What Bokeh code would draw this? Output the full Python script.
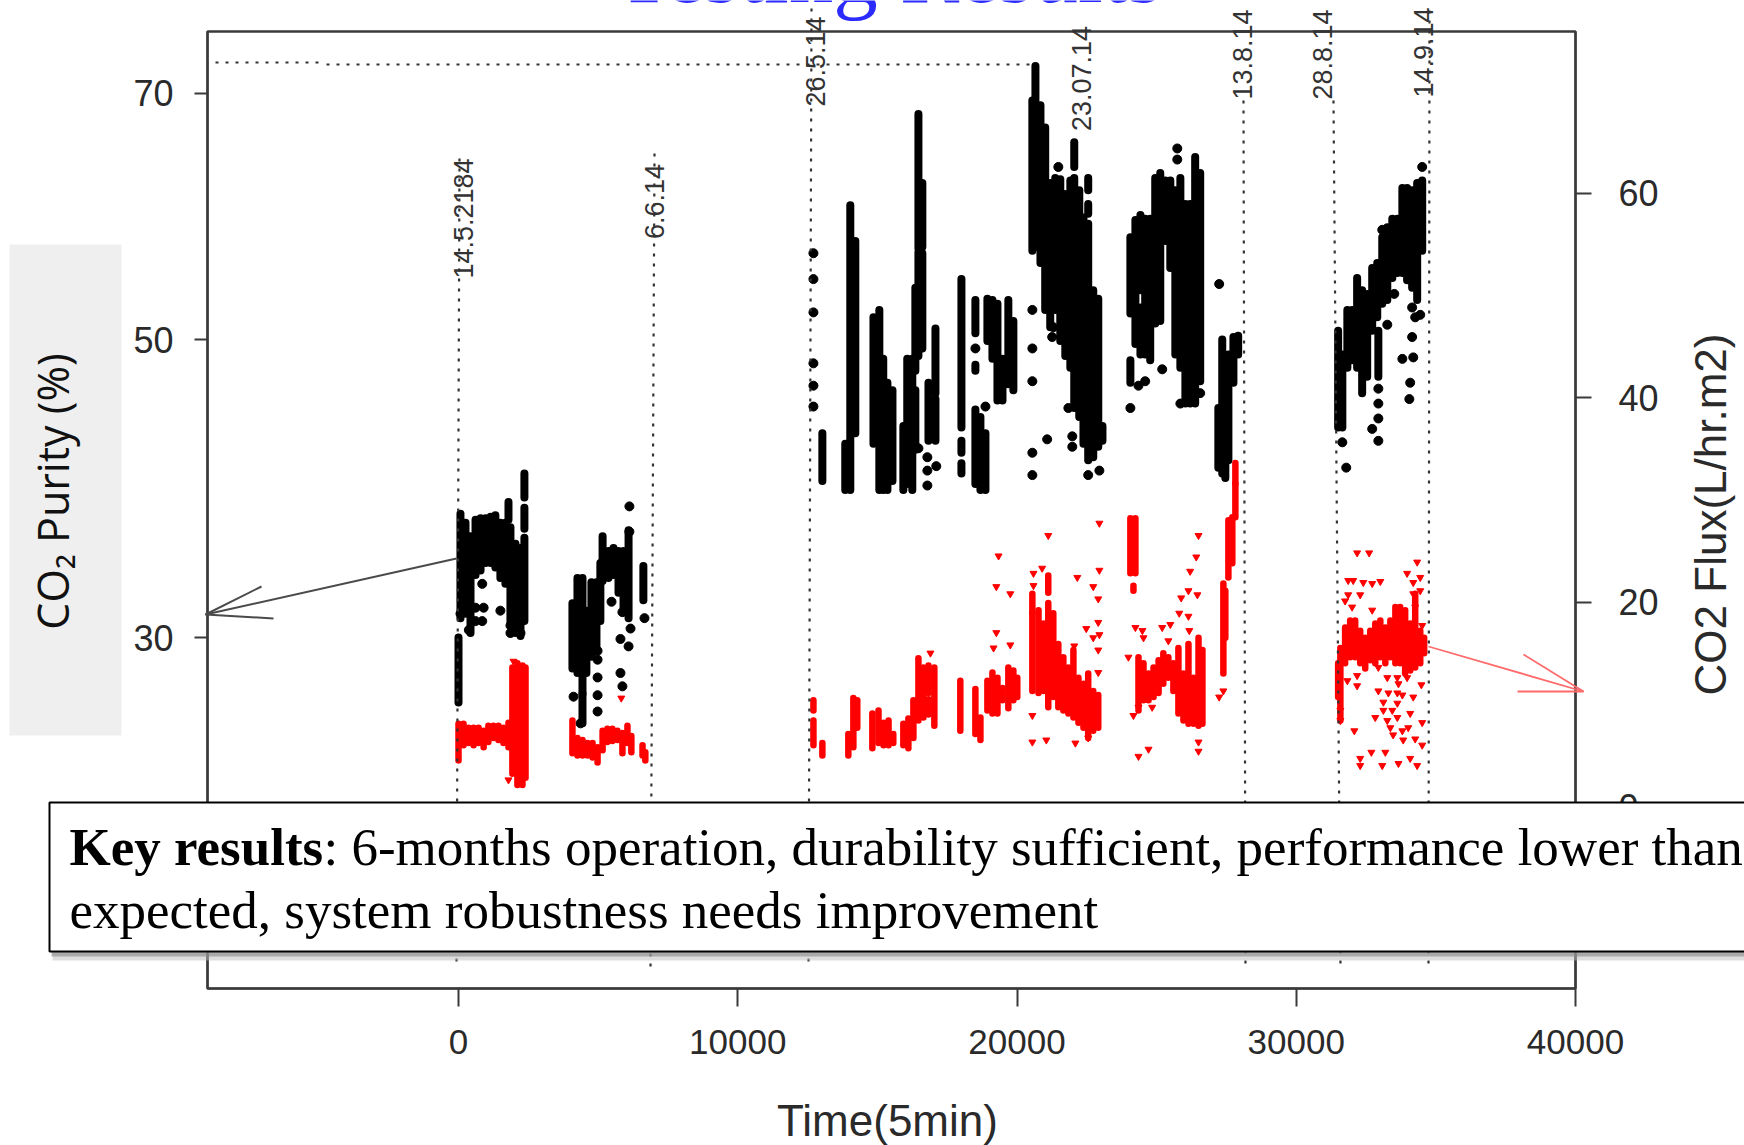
from math import pi
import numpy as np
from bokeh.embed import file_html
from bokeh.resources import INLINE
from bokeh.plotting import figure
from bokeh.models import LinearAxis, FixedTicker, Label, BoxAnnotation, Arrow, Range1d

# ---------------- data ---------------------------------------
x_ticks = [0, 10000, 20000, 30000, 40000]
flux_ticks = [0, 20, 40, 60]
purity_ticks = [30, 50, 70]

# dense CO2 purity clusters: time, low, high of each vertical band
purity_band_t = [0,70,250,430,610,790,970,1150,1320,1500,1680,1790,1860,2040,2220,2360,2360,2360,
 4080,4260,4440,4440,4580,4760,4940,5080,5160,5370,5550,5730,5910,6090,6620,
 13030,13850,14030,14210,14860,15070,15210,15360,15540,15930,16070,16250,16360,16360,16470,16470,16610,16610,16830,17080,17080,
 18010,18010,18010,18510,18510,18510,18690,18870,18940,19120,19300,19480,19690,19870,
 20550,20660,20660,20840,21010,21190,21370,21550,21730,21910,22050,22050,22230,22380,22550,22550,22550,22730,22910,23060,
 24060,24060,24240,24420,24420,24590,24770,24950,25130,25310,25490,25670,25850,26030,26200,26380,26560,
 27210,27350,27460,27570,27750,27920,
 31500,31650,31830,32000,32180,32360,32540,32720,32900,32940,33080,33260,33440,33620,33800,33970,34150,34330,34510]
purity_band_lo = [25.6,31.3,31.6,30.3,34.2,34.5,35.0,35.0,34.7,34.0,33.6,37.9,31.0,30.3,30.1,39.4,37.3,31.1,
 27.9,27.6,26.2,24.2,27.6,28.7,29.1,31.1,33.8,34.0,34.2,33.0,32.0,31.3,32.5,
 40.5,39.9,39.9,43.7,43.0,39.9,39.9,39.9,40.5,39.9,40.3,39.9,47.9,42.6,57.4,48.9,57.5,49.4,43.2,46.4,43.2,
 44.1,42.4,41.0,50.5,47.9,40.3,39.9,39.9,49.9,48.7,45.9,45.9,47.0,46.6,
 57.2,68.8,57.5,56.2,52.4,51.0,52.4,49.9,48.9,48.1,64.0,45.4,44.8,43.0,62.1,60.2,41.9,42.1,42.8,43.2,
 52.1,47.1,49.7,54.0,49.0,49.0,48.6,51.3,51.5,58.0,55.8,49.0,48.1,45.7,45.7,45.7,47.2,
 41.4,41.0,40.7,41.9,47.1,49.0,
 44.1,44.1,48.1,48.6,48.1,46.4,47.5,50.7,51.8,47.5,52.9,53.2,55.0,55.4,55.4,54.8,54.2,53.2,57.2]
purity_band_hi = [30.0,38.3,37.7,36.8,37.9,38.0,38.0,38.1,38.2,37.7,37.7,39.1,37.4,36.3,36.0,41.0,38.7,36.7,
 32.3,34.0,34.0,26.2,31.8,33.7,33.7,35.0,36.8,35.8,36.0,35.8,35.8,37.2,34.8,
 43.7,43.0,60.9,58.0,51.8,52.4,48.7,47.1,46.6,44.2,48.7,48.7,54.2,46.6,68.3,57.1,62.7,57.0,47.1,50.9,46.0,
 54.9,43.2,41.7,53.2,48.3,45.3,44.8,43.7,53.3,53.2,52.9,48.7,53.2,51.5,
 69.4,72.2,68.8,69.0,67.2,62.7,63.1,63.0,61.8,62.9,66.0,63.1,62.1,59.9,63.1,61.0,59.4,54.0,53.3,44.2,
 58.3,48.6,59.7,60.1,52.6,59.8,59.8,63.1,63.5,62.9,62.9,62.1,63.1,61.0,61.0,64.8,63.5,
 45.4,50.0,48.7,49.0,50.2,50.3,
 50.7,49.0,52.4,52.4,55.0,54.0,53.7,55.8,56.2,50.7,58.3,59.1,59.8,59.8,62.3,62.3,62.1,62.7,62.9]
# isolated CO2 purity readings
purity_pt_t = [850,610,900,610,850,370,70,1500,1860,2220,1860,
 6120,6120,5480,5870,6160,6660,5800,6090,5800,5870,4980,4980,4980,4980,4980,4120,4370,
 12710,12710,12710,12710,12710,12710,16790,16790,17110,16790,16470,18510,18870,
 20550,20550,20550,20550,20550,21080,21980,21980,22550,22950,21840,21300,21260,21480,
 24350,24590,24060,25740,25740,25200,27240,26560,25850,
 31650,31790,32940,32940,32940,32940,32720,33080,33510,33260,34150,34260,34440,34150,33800,34190,34080,34050,34510]
purity_pt_v = [33.6,32.0,32.0,31.1,31.1,30.5,31.6,31.8,30.8,30.3,30.3,
 38.8,37.1,32.4,31.7,30.6,31.3,29.9,29.4,27.6,26.7,29.1,28.5,27.3,26.1,25.0,26.0,24.2,
 57.0,54.9,52.2,48.4,46.9,45.5,42.1,41.2,41.5,40.2,42.7,49.4,45.5,
 52.4,49.4,47.2,42.4,40.9,43.3,43.5,42.8,40.9,41.2,45.4,51.0,50.2,64.0,
 46.9,47.2,45.4,65.5,64.6,48.0,54.5,46.4,45.7,
 43.1,41.4,46.7,45.7,44.7,43.2,44.0,58.9,53.7,51.2,52.6,51.8,52.0,50.2,48.7,48.8,47.1,46.0,64.0]

# dense CO2 flux clusters
flux_band_t = [0,180,360,540,720,900,1070,1250,1430,1610,1790,1930,2110,2290,2400,
 4080,4260,4440,4620,4800,4980,5160,5330,5510,5690,5870,6050,6190,6590,6690,
 12710,12710,13030,13960,14140,14280,14820,15040,15220,15400,15570,15930,16110,16290,16470,16650,16830,16830,17040,
 17970,18510,18690,18940,19120,19300,19480,19690,19870,20010,
 20550,20550,20770,20950,21120,21120,21300,21480,21660,21840,22020,22200,22380,22550,22730,22910,
 24060,24170,24240,24350,24530,24710,24890,25070,25240,25420,25600,25780,25960,26140,26320,26500,26640,
 27820,27820,27710,27570,27460,27390,
 31500,31580,31750,31930,32110,32290,32470,32650,32830,33010,33190,33370,33550,33720,33900,34080,34260,34440,34580]
flux_band_lo = [4.5,6.0,6.2,6.0,6.2,5.8,6.3,6.7,6.5,6.2,5.8,3.2,2.1,2.1,2.8,
 5.2,5.0,5.0,5.0,4.8,4.3,5.5,6.3,6.4,6.5,5.2,6.2,5.3,5.0,4.5,
 9.4,6.0,5.0,5.0,5.8,7.7,5.7,6.2,6.0,6.0,6.2,6.0,5.7,6.7,8.4,8.7,11.1,9.0,7.9,
 7.4,7.1,6.5,9.4,9.1,9.1,10.4,9.6,10.4,10.7,
 11.3,18.9,11.1,11.3,9.7,20.9,10.7,9.7,9.4,9.1,8.7,8.2,7.7,6.7,7.4,7.7,
 22.8,21.1,22.8,9.4,10.4,10.4,10.7,11.1,12.0,12.6,11.3,9.1,8.4,8.1,8.1,7.9,8.1,
 31.6,28.3,23.8,22.4,16.5,13.0,
 10.7,8.4,14.0,14.6,14.6,14.0,13.5,14.3,14.0,14.6,14.0,14.6,14.0,14.0,13.0,13.3,13.6,14.0,15.0]
flux_band_hi = [8.1,8.1,7.7,7.7,7.7,7.4,7.9,7.9,7.9,7.7,8.2,13.6,14.0,13.8,13.6,
 8.4,6.7,6.5,6.2,6.2,5.8,7.4,7.6,7.6,7.4,7.2,7.9,6.9,6.0,5.3,
 10.4,8.4,6.2,7.1,10.6,10.4,9.1,9.4,8.2,8.4,7.1,8.1,8.6,10.4,14.5,13.6,13.8,10.5,13.6,
 12.3,11.5,8.7,12.3,13.1,12.6,11.6,13.6,13.3,12.6,
 18.9,20.8,19.2,17.9,19.9,22.6,18.9,15.9,14.6,13.6,15.3,12.6,12.0,13.0,11.3,10.9,
 28.2,21.6,28.2,14.6,14.0,13.0,13.6,14.3,15.0,14.6,14.0,15.5,13.0,15.9,12.6,16.5,15.3,
 33.6,31.6,28.3,28.0,21.1,21.8,
 14.0,15.5,17.5,18.2,18.2,17.2,16.5,17.2,17.9,18.2,17.5,18.2,19.5,19.5,19.2,17.9,20.8,17.2,16.5]
# isolated CO2 flux readings
flux_pt_t = [1970,1790,5830,16900,
 19340,19260,19760,19260,19160,19760,20590,20900,20590,21120,22950,22950,22160,22730,22910,22910,22480,22730,22950,22910,22910,22050,20550,20550,21050,22090,22550,
 26500,26420,26200,26140,26460,25880,25810,26140,25490,25200,24490,24240,24530,25420,26170,24350,24170,24840,24350,24710,26500,26500,23990,27390,27240,
 32180,32610,31860,32040,32400,32720,33010,31860,32290,31750,32000,32720,34330,33970,34440,34190,34190,34440,34260,34510,
 32180,32180,31830,32940,32940,33260,33620,33970,33660,34480,34190,33120,33300,33620,33800,33620,33120,33440,34080,32830,33260,33620,34510,
 32080,33370,33800,34010,33470,33830,34260,34510,32690,33190,32290,32290,33080,33660,34080,34330,31580,31580]
flux_pt_v = [14.2,2.6,10.6,15.0,
 24.5,21.5,20.8,17.0,15.5,15.8,22.8,23.3,21.6,26.5,27.7,23.1,22.4,21.5,20.3,18.0,17.4,16.5,16.8,15.3,13.1,15.7,6.3,8.9,6.5,6.2,6.7,
 26.5,24.4,23.0,21.1,20.7,20.4,18.9,18.6,17.8,17.5,17.2,17.5,16.5,16.2,17.2,9.7,8.9,9.7,4.9,5.6,6.3,5.4,14.6,11.3,10.7,
 24.8,24.8,22.1,22.1,21.9,21.8,22.0,20.7,20.7,20.1,19.5,19.2,23.9,22.8,22.4,21.9,20.8,21.1,19.5,17.7,
 12.8,11.8,12.3,13.6,11.3,12.6,12.6,12.6,12.0,11.9,10.7,10.2,11.1,11.1,10.9,10.1,9.4,9.4,9.1,8.7,8.4,8.7,8.2,
 7.4,7.7,7.4,7.7,7.0,6.5,6.6,6.0,5.3,5.3,4.7,4.0,4.0,4.2,4.7,4.0,9.4,8.4]

date_labels = ["14.5.2184", "6.6.14", "26.5.14", "23.07.14", "13.8.14", "28.8.14", "14.9.14"]

# ---------------- page geometry (reference pixels) -----------------
W, H = 1744, 1145
BOX_L, BOX_R, BOX_T, BOX_B = 207, 1575, 31, 988
X0_PX, X40K_PX = 458, 1575
Y0_PX, PX_PER_FLUX = 806, 10.225

def dx(px):
    return (px - X0_PX) / (X40K_PX - X0_PX) * 40000
def dy(py):
    return (Y0_PX - py) / PX_PER_FLUX

# The printed purity axis is not evenly spaced: its ticks sit at these flux-scale heights
PURITY_KNOTS = [10, 30, 50, 70, 90]
PURITY_HEIGHT = [dy(933), dy(637), dy(339), dy(92.5), dy(-154)]
def purity_height(v):
    return np.interp(v, PURITY_KNOTS, PURITY_HEIGHT)

p = figure(width=W, height=H, output_backend="svg", toolbar_location=None,
           x_range=Range1d(dx(BOX_L), dx(BOX_R)), y_range=Range1d(dy(BOX_B), dy(BOX_T)),
           y_axis_location="right",
           min_border_left=BOX_L, min_border_right=W - BOX_R,
           min_border_top=BOX_T, min_border_bottom=H - BOX_B)
p.grid.visible = False
p.outline_line_color = "#3a3a3a"
p.outline_line_width = 2.5
p.background_fill_color = "white"

TICK_FONT = "Liberation Sans"
def style_axis(ax, ticks, out, standoff, size):
    ax.ticker = FixedTicker(ticks=list(ticks))
    ax.axis_line_color = "#3a3a3a"
    ax.axis_line_width = 2
    ax.major_tick_line_color = "#3a3a3a"
    ax.major_tick_line_width = 2
    ax.major_tick_out = out
    ax.major_tick_in = 0
    ax.minor_tick_out = 0
    ax.minor_tick_in = 0
    ax.major_label_standoff = standoff
    ax.major_label_text_font = TICK_FONT
    ax.major_label_text_font_size = f"{size}px"
    ax.major_label_text_color = "#2a2a2a"
    ax.major_label_orientation = "horizontal"

style_axis(p.xaxis[0], x_ticks, 18, 23, 35)
p.xaxis[0].major_label_overrides = {t: str(t) for t in x_ticks}
style_axis(p.yaxis[0], flux_ticks, 16, 27, 36)

left = LinearAxis()
pos = [float(purity_height(v)) for v in purity_ticks]
style_axis(left, pos, 13, 21, 36)
left.major_label_overrides = {a: str(v) for a, v in zip(pos, purity_ticks)}
p.add_layout(left, "left")

# ---------- data ----------
p.segment(x0=purity_band_t, x1=purity_band_t,
          y0=purity_height(purity_band_lo), y1=purity_height(purity_band_hi),
          line_color="black", line_width=8, line_cap="round")
p.scatter(x=purity_pt_t, y=purity_height(purity_pt_v), marker="circle", size=9,
          fill_color="black", line_color="black")
p.segment(x0=flux_band_t, x1=flux_band_t, y0=flux_band_lo, y1=flux_band_hi,
          line_color="#ff0000", line_width=6.5, line_cap="round")
p.scatter(x=flux_pt_t, y=flux_pt_v, marker="inverted_triangle", size=7,
          fill_color="#ff0000", line_color="#ff0000")

# ---------- page layer: everything in the reference that runs past the plot box ----------
top = figure(width=W, height=H, output_backend="svg", toolbar_location=None,
             x_range=Range1d(dx(0), dx(W)), y_range=Range1d(dy(H), dy(0)),
             x_axis_location=None, y_axis_location=None,
             min_border=0, min_border_left=0, min_border_right=0,
             min_border_top=0, min_border_bottom=0,
             background_fill_color=None, border_fill_color=None, outline_line_color=None)
top.grid.visible = False
top.styles = {"position": "absolute", "left": "0px", "top": "0px"}

def stroke(x0, y0, x1, y1, color, width, dash="solid"):
    top.add_layout(Arrow(end=None, x_start=dx(x0), y_start=dy(y0), x_end=dx(x1), y_end=dy(y1),
                         line_color=color, line_width=width, line_dash=dash))

def dotted(x0, y0, x1, y1):
    stroke(x0, y0, x1, y1, "#333333", 2.2, "3 7")

dotted(459, 158, 456, 968)
dotted(654, 153, 650, 968)
dotted(811, 8, 808, 968)
dotted(1243, 100, 1245, 968)
dotted(1333, 100, 1340, 968)
dotted(1429, 10, 1428, 968)
dotted(215, 62, 324, 62)
dotted(326, 64, 1035, 64)

for a in [(456, 558, 205, 614), (261, 586, 205, 614), (273, 618, 205, 614)]:
    stroke(*a, "#4a4a4a", 2)
for a in [(1428, 646, 1583, 691), (1523, 654, 1583, 691), (1517, 691, 1583, 691)]:
    stroke(*a, "#ff6a6a", 1.8)

BASELINE_SHIFT = 0.375  # Label draws an alphabetic baseline this many em below its anchor
def text(t, x, y, size, angle=0.0, align="center", base="middle", font="Liberation Sans",
         color="#2a2a2a", style="normal"):
    if base == "alphabetic":
        y = y - BASELINE_SHIFT * size
    top.add_layout(Label(x=dx(x), y=dy(y), text=t, angle=angle, text_align=align, text_baseline=base,
                         text_font=font, text_font_size=f"{size}px", text_color=color,
                         text_font_style=style))

for t, x, y in zip(date_labels, [463, 654, 815, 1081, 1242, 1322, 1423],
                   [218, 201, 61, 78, 54, 54, 52]):
    text(t, x, y, 27, angle=pi / 2, color="#333333")

text("Time(5min)", 887, 1120, 44)
text("CO2 Flux(L/hr.m2)", 1710, 514, 44, angle=pi / 2)

top.add_layout(BoxAnnotation(left=dx(9), right=dx(121), top=dy(244), bottom=dy(735),
                             fill_color="#efefef", fill_alpha=1, line_alpha=0))
text("CO\u2082 Purity (%)", 52, 491, 43, angle=pi / 2, font="Open Sans", color="#111111")

# title, cropped by the top of the page as in the reference
text("Testing Results", 889, 5, 89, base="alphabetic", font="Liberation Serif", color="#2b2bff")

# key result box
top.add_layout(BoxAnnotation(left=dx(52), right=dx(1760), top=dy(806), bottom=dy(960),
                             fill_color="#bbbbbb", fill_alpha=0.5, line_alpha=0))
top.add_layout(BoxAnnotation(left=dx(51), right=dx(1760), top=dy(804), bottom=dy(956),
                             fill_color="#888888", fill_alpha=0.6, line_alpha=0))
top.add_layout(BoxAnnotation(left=dx(49), right=dx(1760), top=dy(802), bottom=dy(951),
                             fill_color="white", fill_alpha=1, line_color="black", line_alpha=1,
                             line_width=2))
SERIF = "Liberation Serif"
text("Key results", 69, 866, 53, align="left", base="alphabetic", font=SERIF, color="black", style="bold")
text(": 6-months operation, durability sufficient, performance lower than", 323, 866, 53,
     align="left", base="alphabetic", font=SERIF, color="black")
text("expected, system robustness needs improvement", 69, 929, 53,
     align="left", base="alphabetic", font=SERIF, color="black")

open("out.html", "w").write(file_html([p, top], INLINE))
